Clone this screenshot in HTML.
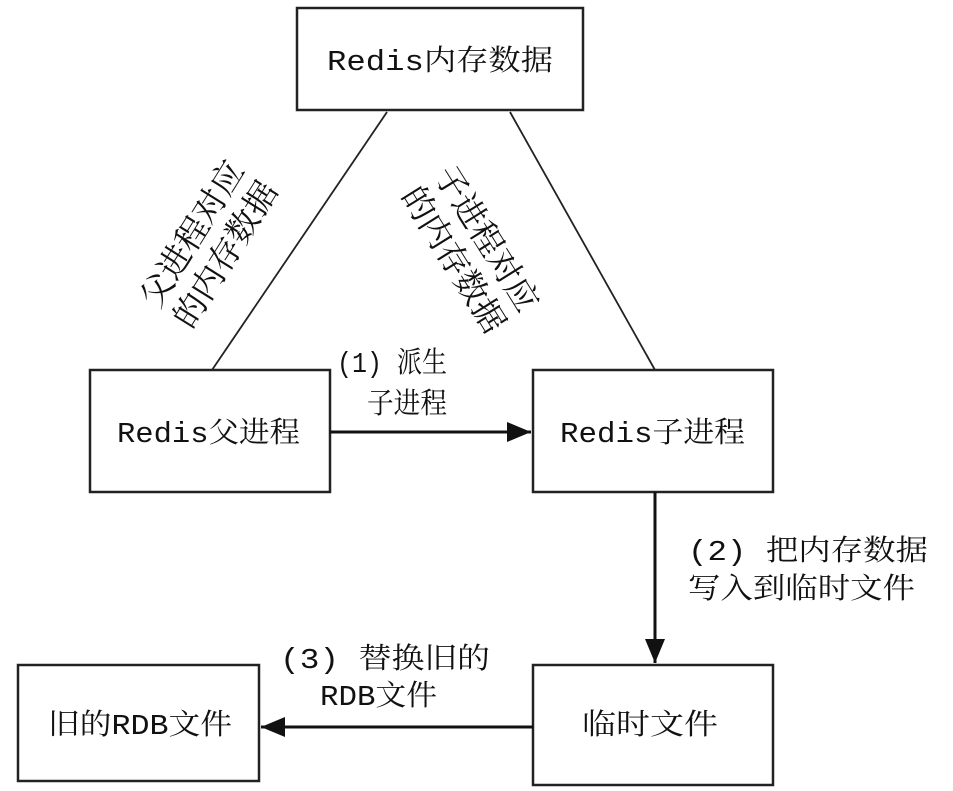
<!DOCTYPE html>
<html><head><meta charset="utf-8"><style>
html,body{margin:0;padding:0;background:#fff;}
svg{display:block;}
text{font-family:"Liberation Mono","Noto Serif CJK SC","Noto Sans CJK SC",serif;fill:#111;}
</style></head><body>
<svg width="953" height="791" viewBox="0 0 953 791" xmlns="http://www.w3.org/2000/svg">
<defs>
<marker id="b" markerWidth="24" markerHeight="20" refX="24" refY="10" orient="auto" markerUnits="userSpaceOnUse">
<path d="M0,0 L24,10 L0,20 Z" fill="#111"/></marker>
</defs>
<g fill="none" stroke="#222" stroke-width="2.5">
<rect x="297" y="8" width="286" height="102"/>
<rect x="90" y="370" width="240" height="122"/>
<rect x="533" y="370" width="240" height="122"/>
<rect x="533" y="665" width="240" height="120"/>
<rect x="18" y="665" width="241" height="116"/>
</g>
<g stroke="#222" stroke-width="1.8">
<line x1="387" y1="112" x2="212" y2="370"/>
<line x1="510" y1="112" x2="655" y2="370"/>
</g>
<g stroke="#111" stroke-width="3" fill="none">
<line x1="330" y1="432" x2="531" y2="432" marker-end="url(#b)"/>
<line x1="655" y1="492" x2="655" y2="663" marker-end="url(#b)"/>
<line x1="533" y1="727" x2="261" y2="727" marker-end="url(#b)"/>
</g>
<g font-size="29">
<text x="327" y="70" textLength="226" lengthAdjust="spacingAndGlyphs">Redis内存数据</text>
<text x="117" y="442" textLength="183" lengthAdjust="spacingAndGlyphs">Redis父进程</text>
<text x="560" y="442" textLength="185" lengthAdjust="spacingAndGlyphs">Redis子进程</text>
<text x="582" y="734" textLength="136" lengthAdjust="spacingAndGlyphs">临时文件</text>
<text x="48" y="734" textLength="184" lengthAdjust="spacingAndGlyphs">旧的RDB文件</text>
<text x="337" y="372" textLength="110" lengthAdjust="spacingAndGlyphs">(1) 派生</text>
<text x="367" y="413" textLength="80" lengthAdjust="spacingAndGlyphs">子进程</text>
<text x="688" y="560" textLength="240" lengthAdjust="spacingAndGlyphs">(2) 把内存数据</text>
<text x="688" y="598" textLength="227" lengthAdjust="spacingAndGlyphs">写入到临时文件</text>
<text x="280" y="668" textLength="210" lengthAdjust="spacingAndGlyphs">(3) 替换旧的</text>
<text x="320" y="705" textLength="117" lengthAdjust="spacingAndGlyphs">RDB文件</text>
</g>
<g font-size="33" text-anchor="middle">
<text transform="translate(207,243) rotate(-58)"><tspan x="0" y="-6">父进程对应</tspan><tspan x="0" y="33">的内存数据</tspan></text>
<text transform="translate(472,248) rotate(58)"><tspan x="0" y="-6">子进程对应</tspan><tspan x="0" y="33">的内存数据</tspan></text>
</g>
</svg>
</body></html>
